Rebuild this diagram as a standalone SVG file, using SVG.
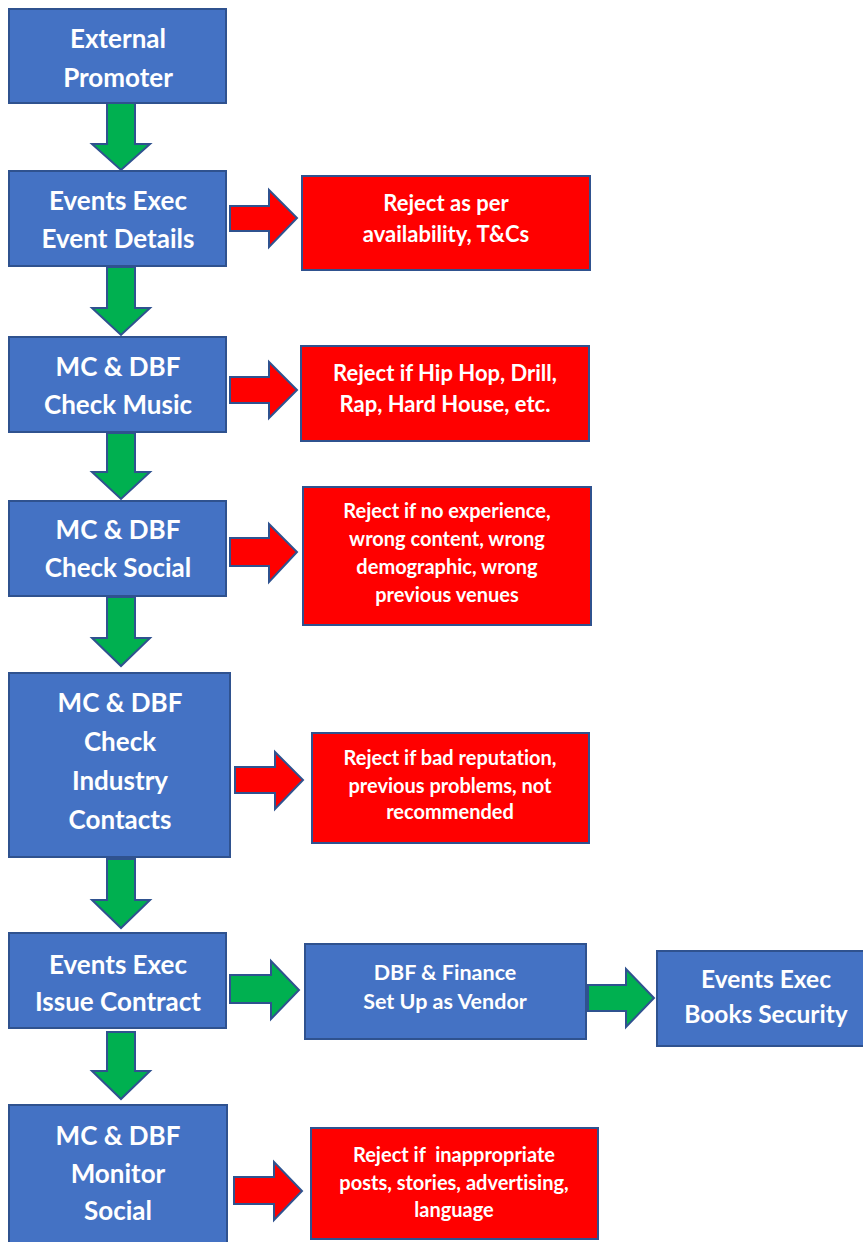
<svg xmlns="http://www.w3.org/2000/svg" width="863" height="1242" viewBox="0 0 863 1242">
<style>
.b{fill:#4472C4;stroke:#2F528F;stroke-width:2}
.r{fill:#FF0000;stroke:#2F528F;stroke-width:2}
.ga{fill:#00B050;stroke:#2F528F;stroke-width:2;stroke-linejoin:miter}
.ra{fill:#FF0000;stroke:#2F528F;stroke-width:2;stroke-linejoin:miter}
text{font-family:Lato,"Open Sans",sans-serif;font-weight:bold;fill:#FFFFFF;text-anchor:middle;white-space:pre;font-variant-ligatures:none}
.t1{font-size:26px}
.t2{font-size:20px}
.t5{font-size:22px}
.t3{font-size:21.5px}
.t4{font-size:24.5px}
</style>
<rect width="863" height="1242" fill="#FFFFFF"/>
<g id="connectors">
<path class="ga" d="M107,103 V144 H92 L121,170 L150,144 H135 V103 Z"/>
<path class="ga" d="M107,267 V308 H92 L121,335 L150,308 H135 V267 Z"/>
<path class="ga" d="M107,433 V472 H92 L121,499 L150,472 H135 V433 Z"/>
<path class="ga" d="M107,597 V638 H92 L121,666 L150,638 H135 V597 Z"/>
<path class="ga" d="M107,859 V900 H92 L121,928 L150,900 H135 V859 Z"/>
<path class="ga" d="M107,1032 V1071 H92 L121,1099 L150,1071 H135 V1032 Z"/>
<path class="ga" d="M230,975 H271 V961 L299,990 L271,1019 V1003 H230 Z"/>
<path class="ga" d="M588,985 H626 V969 L654,998 L626,1027 V1011 H588 Z"/>
<path class="ra" d="M230,206 H269 V190 L297,218 L269,247 V231 H230 Z"/>
<path class="ra" d="M230,377 H269 V362 L297,390 L269,418 V403 H230 Z"/>
<path class="ra" d="M230,538 H269 V524 L297,552 L269,582 V566 H230 Z"/>
<path class="ra" d="M235,767 H275 V752 L303,780 L275,809 V793 H235 Z"/>
<path class="ra" d="M234,1177 H274 V1162 L302,1191 L274,1220 V1204 H234 Z"/>
</g>
<g id="n1"><rect class="b" x="9" y="9" width="217" height="94"/>
<text class="t1" x="118" y="48">External</text><text class="t1" x="118" y="87">Promoter</text></g>
<g id="n2"><rect class="b" x="9" y="171" width="217" height="95"/>
<text class="t1" x="118" y="210">Events Exec</text><text class="t1" x="118" y="248">Event Details</text></g>
<g id="n3"><rect class="b" x="9" y="337" width="217" height="95"/>
<text class="t1" x="118" y="376">MC &amp; DBF</text><text class="t1" x="118" y="414">Check Music</text></g>
<g id="n4"><rect class="b" x="9" y="501" width="217" height="95"/>
<text class="t1" x="118" y="539">MC &amp; DBF</text><text class="t1" x="118" y="577">Check Social</text></g>
<g id="n5"><rect class="b" x="9" y="673" width="221" height="184"/>
<text class="t1" x="120" y="712">MC &amp; DBF</text><text class="t1" x="120" y="751">Check</text><text class="t1" x="120" y="790">Industry</text><text class="t1" x="120" y="829">Contacts</text></g>
<g id="n6"><rect class="b" x="9" y="933" width="217" height="95"/>
<text class="t1" x="118" y="974">Events Exec</text><text class="t1" x="118" y="1011">Issue Contract</text></g>
<g id="n7"><rect class="b" x="9" y="1105" width="218" height="145"/>
<text class="t1" x="118" y="1145">MC &amp; DBF</text><text class="t1" x="118" y="1183">Monitor</text><text class="t1" x="118" y="1220">Social</text></g>
<g id="r1"><rect class="r" x="302" y="176" width="288" height="94"/>
<text class="t5" x="446" y="211">Reject as per</text><text class="t5" x="446" y="242">availability, T&amp;Cs</text></g>
<g id="r2"><rect class="r" x="301" y="346" width="288" height="95"/>
<text class="t5" x="445" y="381">Reject if Hip Hop, Drill,</text><text class="t5" x="445" y="412">Rap, Hard House, etc.</text></g>
<g id="r3"><rect class="r" x="303" y="487" width="288" height="138"/>
<text class="t2" x="447" y="518">Reject if no experience,</text><text class="t2" x="447" y="546">wrong content, wrong</text><text class="t2" x="447" y="574">demographic, wrong</text><text class="t2" x="447" y="602">previous venues</text></g>
<g id="r5"><rect class="r" x="312" y="733" width="277" height="110"/>
<text class="t2" x="450" y="765">Reject if bad reputation,</text><text class="t2" x="450" y="793">previous problems, not</text><text class="t2" x="450" y="819">recommended</text></g>
<g id="n8"><rect class="b" x="305" y="944" width="281" height="95"/>
<text class="t3" x="445" y="980">DBF &amp; Finance</text><text class="t3" x="445" y="1009">Set Up as Vendor</text></g>
<g id="n9"><rect class="b" x="657" y="951" width="218" height="95"/>
<text class="t4" x="766" y="988">Events Exec</text><text class="t4" x="766" y="1023">Books Security</text></g>
<g id="r7"><rect class="r" x="311" y="1128" width="287" height="111"/>
<text class="t2" x="454" y="1162">Reject if  inappropriate</text><text class="t2" x="454" y="1190">posts, stories, advertising,</text><text class="t2" x="454" y="1217">language</text></g>
</svg>
